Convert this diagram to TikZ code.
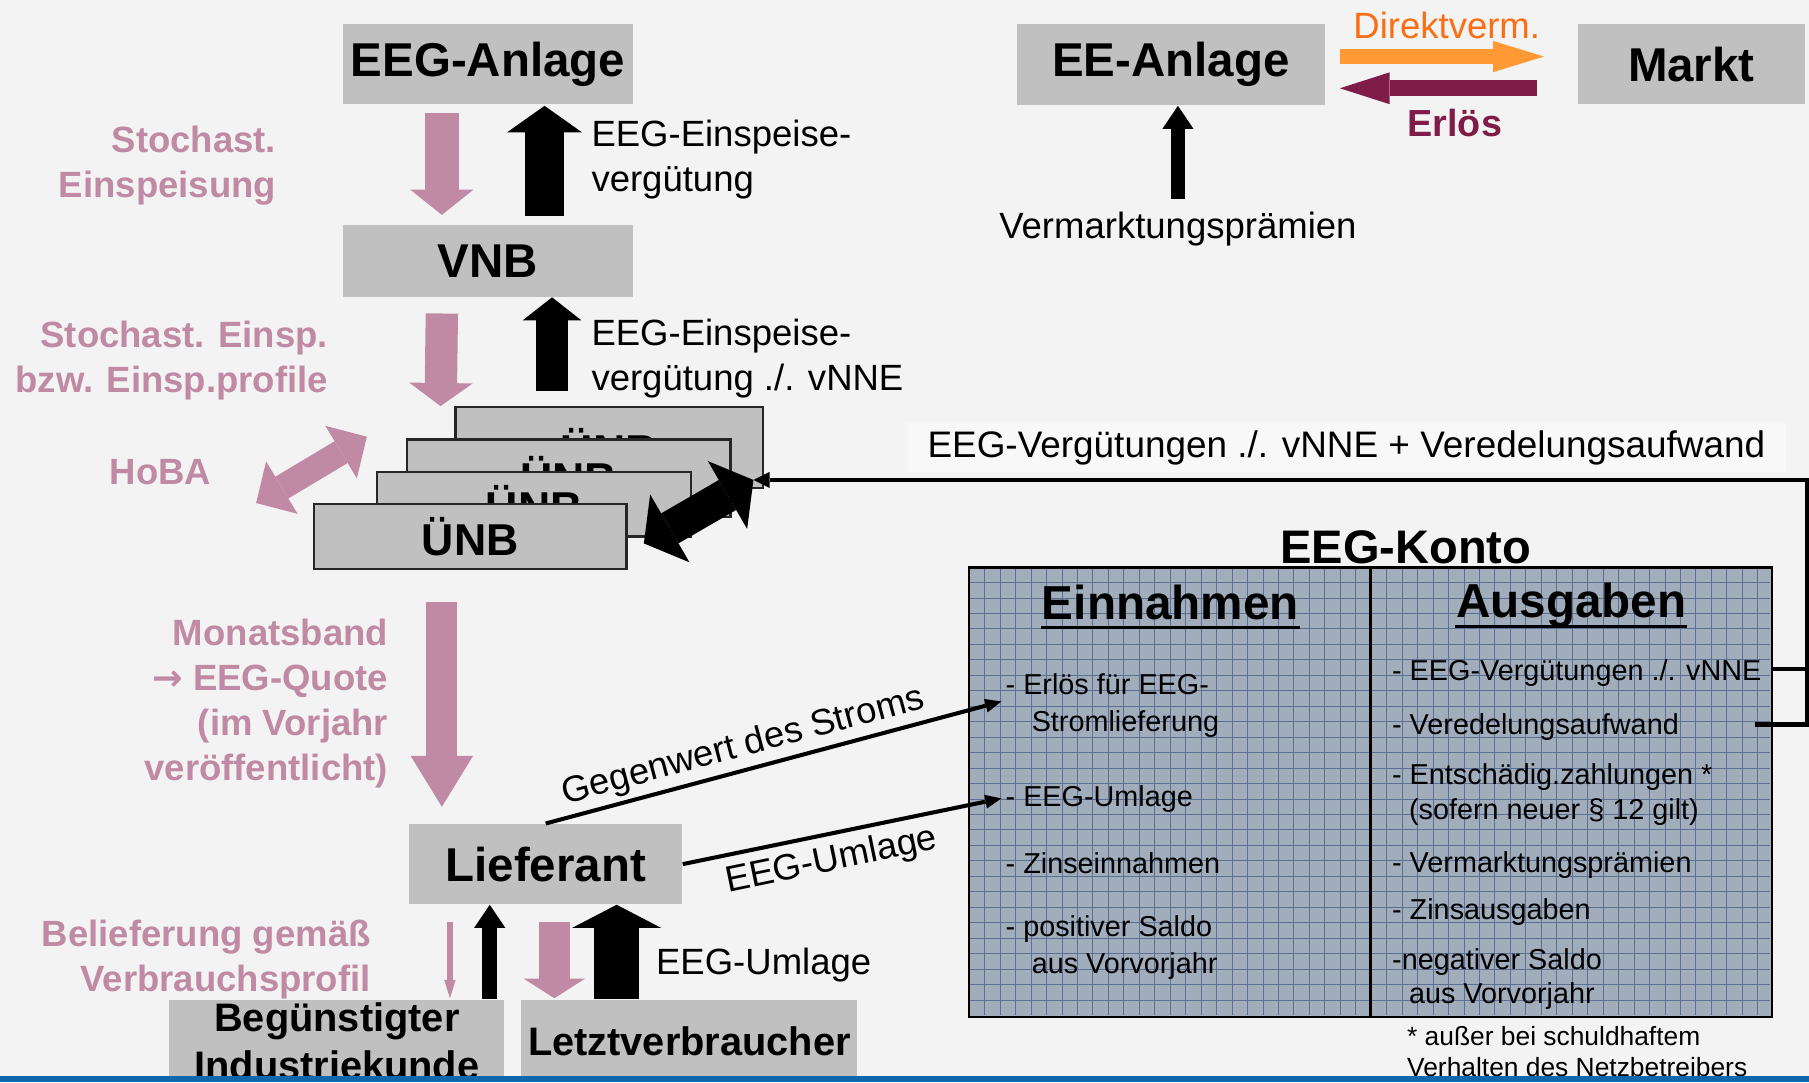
\documentclass[tikz,border=0pt]{standalone}
\usepackage{fontspec}
\setmainfont{Liberation Sans}
\newfontfamily\arrowfont{DejaVu Sans}
\usetikzlibrary{arrows.meta,calc}
\definecolor{bgc}{RGB}{243,243,243}
\definecolor{boxg}{RGB}{192,192,192}
\definecolor{pinkc}{RGB}{192,138,164}
\definecolor{orangec}{RGB}{255,153,51}
\definecolor{orangetxt}{RGB}{250,110,20}
\definecolor{purplec}{RGB}{128,28,72}
\definecolor{kontofill}{RGB}{162,173,188}
\definecolor{gridc}{RGB}{92,112,150}
\definecolor{barblue}{RGB}{16,104,172}
\definecolor{lblfill}{RGB}{248,248,248}
\tikzset{
 bigbox/.style={fill=boxg, inner sep=0pt, font=\bfseries\fontsize{11.7}{14}\selectfont, align=center},
 lowbox/.style={fill=boxg, inner sep=0pt, font=\bfseries\fontsize{9.8}{11.95}\selectfont, align=center},
 uenb/.style={fill=boxg, draw=black!85, line width=0.02cm, inner sep=0pt, font=\bfseries\fontsize{11}{13}\selectfont},
 pinklbl/.style={text=pinkc, font=\bfseries\fontsize{9}{11.1}\selectfont, align=right, inner sep=0pt},
 blacklbl/.style={font=\fontsize{9}{11.1}\selectfont, align=left, inner sep=0pt},
 kitem/.style={font=\fontsize{7.1}{8.5}\selectfont, inner sep=0pt, anchor=base west},
 kfoot/.style={font=\fontsize{6.5}{8}\selectfont, inner sep=0pt, anchor=base west},
 khead/.style={font=\bfseries\fontsize{11.75}{14}\selectfont, inner sep=0pt, anchor=base},
 blk/.style n args={3}{line width=#1, -{Triangle[width=#2,length=#3,line width=0pt]}},
 dblk/.style n args={3}{line width=#1, {Triangle[width=#2,length=#3,line width=0pt]}-{Triangle[width=#2,length=#3,line width=0pt]}},
 conn/.style={line width=0.035cm, -{Triangle[width=0.12cm,length=0.14cm,line width=0pt]}},
}
\begin{document}
\begin{tikzpicture}[x=0.01cm, y=-0.01cm]
\useasboundingbox (0,0) rectangle (1568,938);
\fill[bgc] (0,0) rectangle (1568,938);

% main boxes
\node[bigbox, minimum width=2.52cm, minimum height=0.69cm] (eega) at (423,55.5) {EEG-Anlage};
\node[bigbox, minimum width=2.52cm, minimum height=0.62cm] (vnb) at (423,226) {VNB};
\node[bigbox, minimum width=2.66cm, minimum height=0.70cm] (eea) at (1015,56) {EE-Anlage};
\node[bigbox, minimum width=1.97cm, minimum height=0.69cm] (markt) at (1466,55.5) {Markt};
\node[bigbox, minimum width=2.36cm, minimum height=0.69cm] (lief) at (473,749) {Lieferant};
\node[lowbox, minimum width=2.90cm, minimum height=0.71cm] (indk) at (292,902.5) {Begünstigter\\Industriekunde};
\node[lowbox, minimum width=2.91cm, minimum height=0.71cm] (letzt) at (597.5,902.5) {Letztverbraucher};

% UENB stack
\node[uenb, minimum width=2.66cm, minimum height=0.70cm] (u1) at (528,388) {ÜNB};
\node[uenb, minimum width=2.80cm, minimum height=0.67cm] (u2) at (493,414.5) {\raisebox{1.4pt}{ÜNB}};
\node[uenb, minimum width=2.72cm, minimum height=0.56cm] (u3) at (463,437) {ÜNB};
\node[uenb, minimum width=2.71cm, minimum height=0.56cm] (u4) at (407.5,465) {ÜNB};

% labels left (pink)
\node[pinklbl, anchor=east] (l1) at (240,143.5) {Stochast.\\Einspeisung};
\node[pinklbl, anchor=east] (l2) at (285,312.5) {Stochast. Einsp.\\bzw. Einsp.profile};
\node[pinklbl] (l3) at (139,409) {HoBA};
\node[pinklbl, anchor=east] (l4) at (337,609.5) {Monatsband\\{\arrowfont\bfseries →} EEG-Quote\\(im Vorjahr\\veröffentlicht)};
\node[pinklbl, anchor=east] (l5) at (322,831.5) {Belieferung gemäß\\Verbrauchsprofil};

% labels black
\node[blacklbl, anchor=west] (b1) at (512,138.5) {EEG-Einspeise-\\vergütung};
\node[blacklbl, anchor=west] (b2) at (512,310.5) {EEG-Einspeise-\\vergütung ./. vNNE};
\node[blacklbl, anchor=west] (b3) at (568,836.5) {EEG-Umlage};
\node[blacklbl] (vmp) at (1021,198.5) {Vermarktungsprämien};
\node[blacklbl, text=orangetxt] (dv) at (1254,22) {Direktverm.};
\node[blacklbl, text=purplec, font=\bfseries\fontsize{9.3}{11}\selectfont] (erl) at (1261,107) {Erlös};

% label box
\node[fill=lblfill, minimum width=7.62cm, minimum height=0.42cm, inner sep=0pt, font=\fontsize{9.1}{11}\selectfont] (vlbl) at (1167,388) {EEG-Vergütungen ./. vNNE + Veredelungsaufwand};

% Konto
\node[fill=kontofill, minimum width=6.94cm, minimum height=3.88cm, inner sep=0pt, anchor=north west] (konto) at (840,492) {};
\begin{scope}
\clip (konto.south west) rectangle (konto.north east);
\foreach \i in {1,...,51} \draw[gridc, line width=0.005cm] ({840+\i*13.4},492) -- ({840+\i*13.4},880);
\foreach \j in {1,...,28} \draw[gridc, line width=0.005cm] (840,{880-\j*13.4}) -- (1534,{880-\j*13.4});
\end{scope}
\draw[line width=0.02cm] (konto.south west) rectangle (konto.north east);
\draw[line width=0.02cm] ($(konto.north west)+(348,0)$) -- ($(konto.south west)+(348,0)$);
\node[font=\bfseries\fontsize{11.6}{14}\selectfont, inner sep=0pt, anchor=base] (ktitle) at (1218.5,488) {EEG-Konto};
\node[khead] (einn) at (1014.5,537) {Einnahmen};
\node[khead] (ausg) at (1362,535) {Ausgaben};
\draw[line width=0.029cm] ($(einn.base west)+(0,7)$) -- ($(einn.base east)+(0,7)$);
\draw[line width=0.029cm] ($(ausg.base west)+(0,8)$) -- ($(ausg.base east)+(0,8)$);

\node[kitem] (e1) at (871,602) {- Erlös für EEG-};
\node[kitem] (e1b) at (893.6,634) {Stromlieferung};
\node[kitem] (e2) at (871,699) {- EEG-Umlage};
\node[kitem] (e3) at (871,757) {- Zinseinnahmen};
\node[kitem] (e4) at (871,812) {- positiver Saldo};
\node[kitem] (e4b) at (893.6,844) {aus Vorvorjahr};

\node[kitem] (a1) at (1206,590) {- EEG-Vergütungen ./. vNNE};
\node[kitem] (a2) at (1206,637) {- Veredelungsaufwand};
\node[kitem] (a3) at (1206,680) {- Entschädig.zahlungen *};
\node[kitem] (a3b) at (1220.6,710) {(sofern neuer § 12 gilt)};
\node[kitem] (a4) at (1206,756) {- Vermarktungsprämien};
\node[kitem] (a5) at (1206,797) {- Zinsausgaben};
\node[kitem] (a6) at (1206,840) {-negativer Saldo};
\node[kitem] (a6b) at (1220.6,870) {aus Vorvorjahr};

\node[kfoot] (f1) at (1219,906) {* außer bei schuldhaftem};
\node[kfoot] (f2) at (1219,933) {Verhalten des Netzbetreibers};

% coordinates
\coordinate (hl) at (222,436);
\coordinate (hr) at (318,378.5);
\coordinate (uL) at ($(u4.east)+(14,6)$);
\coordinate (uR) at ($(u1.east)+(-9,28)$);
\coordinate (kin1) at (868,608);
\coordinate (kin2) at (868,692);
\coordinate (kout1) at (1535,580);
\coordinate (kout2) at (1521,628);
\coordinate (rc1) at (1566,628);
\coordinate (rc2) at (1566,416);

% block arrows
\draw[pinkc, blk={0.29cm}{0.55cm}{0.22cm}] ($(eega.south)+(-40,7)$) -- ($(vnb.north)+(-40,-8)$);
\draw[black, blk={0.34cm}{0.65cm}{0.23cm}] ($(vnb.north)+(49,-7)$) -- ($(eega.south)+(49,1)$);
\draw[pinkc, blk={0.28cm}{0.55cm}{0.20cm}] ($(vnb.south)+(-40,14)$) -- ($(u2.north west)+(30,-28)$);
\draw[black, blk={0.27cm}{0.51cm}{0.20cm}] ($(u1.north)+(-49.5,-13)$) -- ($(vnb.south)+(55.5,0)$);
\draw[pinkc, dblk={0.22cm}{0.53cm}{0.26cm}] (hl) -- (hr);
\draw[black, dblk={0.30cm}{0.68cm}{0.26cm}] (uL) -- (uR);
\draw[pinkc, blk={0.27cm}{0.54cm}{0.44cm}] ($(u4.south)+(-24.5,28)$) -- ($(lief.north)+(-90,-14.5)$);
\draw[pinkc, blk={0.045cm}{0.10cm}{0.16cm}] ($(lief.south)+(-83,14.5)$) -- ($(indk.north)+(98,-1)$);
\draw[black, blk={0.13cm}{0.27cm}{0.20cm}] ($(indk.north)+(132.5,0)$) -- ($(lief.south)+(-48.5,0)$);
\draw[pinkc, blk={0.27cm}{0.53cm}{0.17cm}] ($(lief.south)+(7.5,14.5)$) -- ($(letzt.north)+(-117,-1)$);
\draw[black, blk={0.39cm}{0.77cm}{0.20cm}] ($(letzt.north)+(-63,0)$) -- ($(lief.south)+(61.5,0)$);
\draw[orangec, blk={0.135cm}{0.27cm}{0.44cm}] ($(eea.east)+(12.6,-7)$) -- ($(markt.west)+(-28.5,-6.5)$);
\draw[purplec, blk={0.14cm}{0.275cm}{0.43cm}] ($(markt.west)+(-34.5,21)$) -- ($(eea.east)+(12.6,20.5)$);
\draw[black, blk={0.125cm}{0.27cm}{0.20cm}] ($(vmp.north)+(0,-11)$) -- ($(eea.south)+(6,0)$);

% thin connectors
\draw[conn] (lief.north) -- node[pos=0.447, sloped, above, inner sep=1pt, font=\fontsize{9}{11}\selectfont] {Gegenwert des Stroms} (kin1);
\draw[conn] (lief.east) -- node[pos=0.45, sloped, below, inner sep=2pt, font=\fontsize{9}{11}\selectfont] {EEG-Umlage} (kin2);
\draw[line width=0.038cm] (kout1) -- (kout1 -| rc1);
\draw[line width=0.038cm, -{Triangle[width=0.14cm,length=0.14cm,line width=0pt]}] (kout2) -- (rc1) -- (rc2) -- (uR);

% bottom bar
\fill[barblue] (0,933) rectangle (1568,938);
\end{tikzpicture}
\end{document}
